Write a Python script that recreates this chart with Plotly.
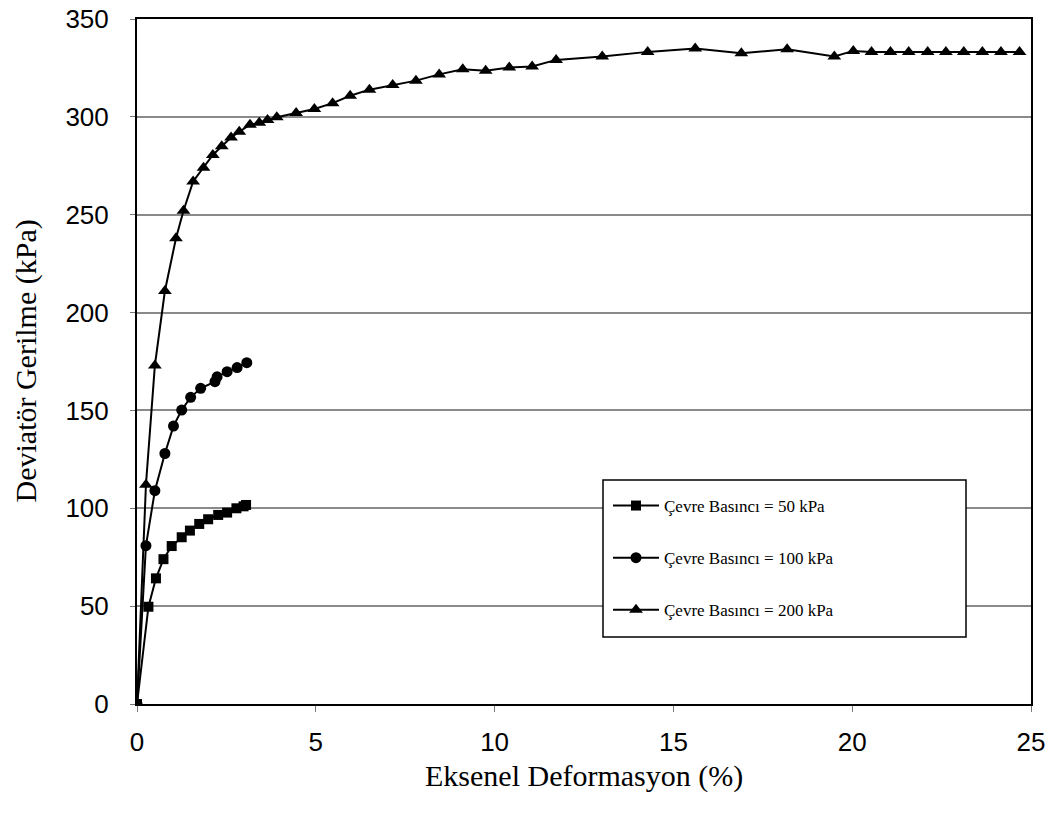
import plotly.graph_objects as go

# 50 kPa (squares)
x50 = [0, 0.32, 0.53, 0.74, 0.97, 1.25, 1.48, 1.74, 1.99, 2.27, 2.52, 2.78, 2.98, 3.05]
y50 = [0, 49.7, 64.2, 74.0, 80.7, 85.2, 88.6, 92.0, 94.4, 96.6, 97.8, 100.0, 101.0, 101.7]

# 100 kPa (circles)
x100 = [0, 0.25, 0.50, 0.78, 1.02, 1.25, 1.50, 1.78, 2.18, 2.24, 2.52, 2.80, 3.07]
y100 = [0, 80.9, 109.0, 128.0, 142.0, 150.2, 156.7, 161.3, 164.7, 167.2, 169.8, 171.9, 174.4]

# 200 kPa (triangles)
x200 = [0, 0.25, 0.50, 0.78, 1.09, 1.30, 1.57, 1.86, 2.12, 2.37, 2.63, 2.86, 3.16, 3.42,
        3.65, 3.91, 4.45, 4.96, 5.47, 5.96, 6.50, 7.15, 7.80, 8.45, 9.11, 9.75, 10.41,
        11.05, 11.72, 13.01, 14.28, 15.61, 16.90, 18.18, 19.50, 20.03, 20.54, 21.07,
        21.58, 22.11, 22.62, 23.12, 23.64, 24.16, 24.68]
y200 = [0, 112.0, 173.0, 211.0, 238.0, 252.0, 267.0, 274.0, 280.5, 285.0, 289.5, 292.4,
        296.0, 297.0, 298.4, 299.8, 302.0, 304.0, 307.0, 310.8, 313.9, 316.3, 318.5,
        321.7, 324.3, 323.5, 325.2, 325.7, 329.1, 330.8, 333.2, 334.9, 332.5, 334.6,
        330.8, 333.7, 333.2, 333.2, 333.2, 333.2, 333.2, 333.2, 333.2, 333.2, 333.2]

names = ["Çevre Basıncı = 50 kPa", "Çevre Basıncı = 100 kPa", "Çevre Basıncı = 200 kPa"]

fig = go.Figure()
fig.add_trace(go.Scatter(x=x50, y=y50, mode="lines+markers", name=names[0], legendgroup="a",
                         line=dict(color="black", width=2),
                         marker=dict(symbol="square", size=10, color="black")))
fig.add_trace(go.Scatter(x=x100, y=y100, mode="lines+markers", name=names[1], legendgroup="b",
                         line=dict(color="black", width=2),
                         marker=dict(symbol="circle", size=11, color="black")))
fig.add_trace(go.Scatter(x=x200, y=y200, mode="lines+markers", name=names[2], legendgroup="c",
                         line=dict(color="black", width=2),
                         marker=dict(symbol="triangle-up", size=12, color="black")))

tickfont = dict(family="'Liberation Sans', Arial, sans-serif", size=26, color="black")
serif = "'Liberation Serif', 'Times New Roman', serif"

fig.update_layout(
    width=1057, height=823,
    margin=dict(l=137, r=26, t=19, b=119, autoexpand=False),
    plot_bgcolor="white", paper_bgcolor="white",
    showlegend=True,
    legend=dict(x=(608 - 137) / 894, y=1 - (488 - 19) / 685, xanchor="left", yanchor="top",
                bgcolor="rgba(0,0,0,0)", borderwidth=0,
                font=dict(family=serif, size=17, color="black"),
                traceorder="grouped", tracegroupgap=27, itemwidth=46),
    xaxis=dict(range=[0, 25], dtick=5, showgrid=False, zeroline=False, automargin=False,
               showline=True, linecolor="black", linewidth=2, mirror=True,
               ticks="outside", ticklen=6, tickcolor="#777", tickwidth=1,
               tickfont=tickfont, ticklabelstandoff=8),
    yaxis=dict(range=[0, 350], dtick=50, showgrid=True, gridcolor="#8a8a8a", gridwidth=1.6,
               zeroline=False, automargin=False, showline=True, linecolor="black", linewidth=2,
               mirror=True, ticks="outside", ticklen=5, tickcolor="#777", tickwidth=1,
               tickfont=tickfont, ticklabelstandoff=16),
    shapes=[dict(type="rect", xref="paper", yref="paper",
                 x0=(603 - 137) / 894, x1=(966 - 137) / 894,
                 y0=1 - (637 - 19) / 685, y1=1 - (480 - 19) / 685,
                 line=dict(color="black", width=1.5), fillcolor="white", layer="above")],
    annotations=[
        dict(text="Eksenel Deformasyon (%)", xref="paper", yref="paper", x=0.5, y=0,
             yshift=-72, xanchor="center", yanchor="middle", showarrow=False,
             font=dict(family=serif, size=30, color="black")),
        dict(text="Deviatör Gerilme (kPa)", xref="paper", yref="paper", x=0, y=0.5,
             xshift=-112, xanchor="center", yanchor="middle", showarrow=False, textangle=-90,
             font=dict(family=serif, size=30, color="black")),
    ],
)

fig.write_html("out.html")
